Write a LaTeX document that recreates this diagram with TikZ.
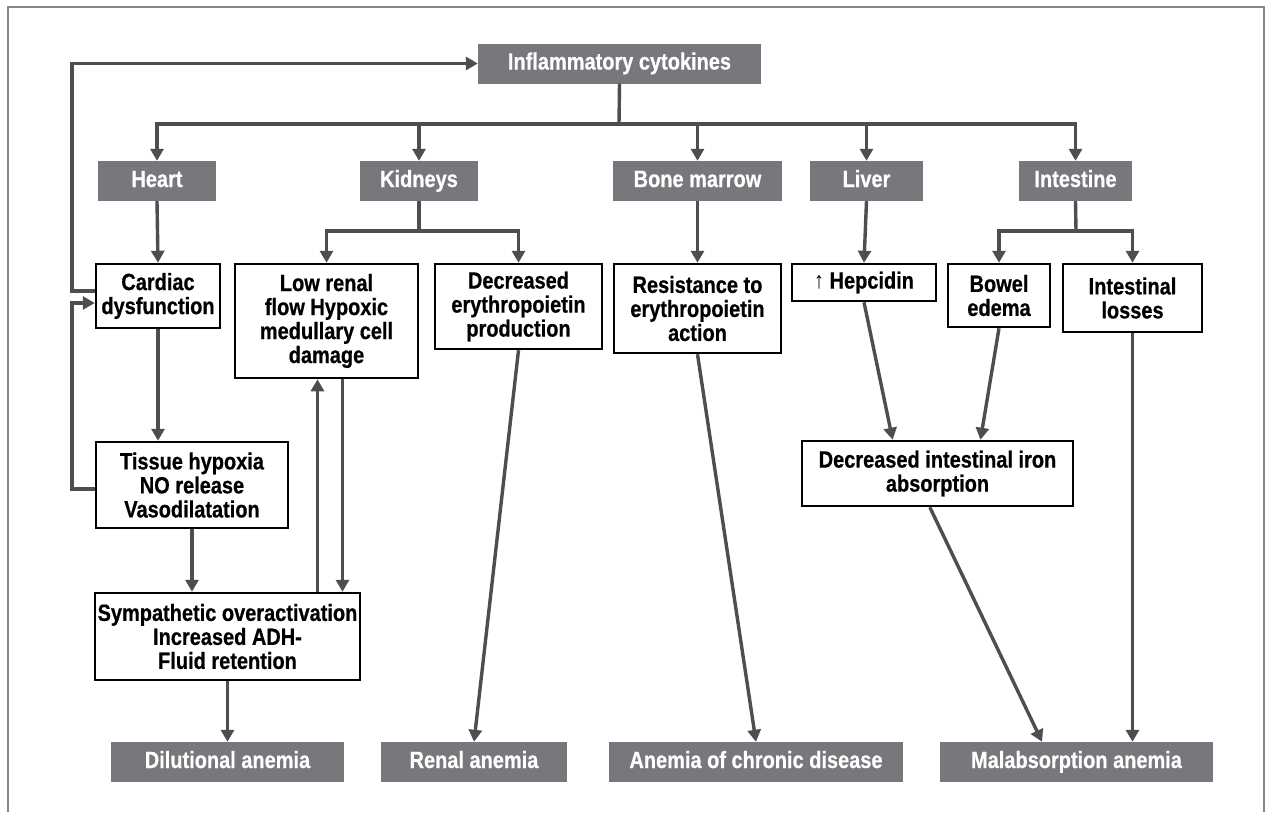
\documentclass[tikz,border=0pt]{standalone}
\usepackage{fontspec}
\setmainfont{Liberation Sans}[FakeStretch=0.85, BoldFeatures={FakeBold=0.6}]
\usetikzlibrary{positioning,arrows.meta,calc}
\definecolor{boxgray}{RGB}{119,120,124}
\definecolor{linegray}{RGB}{78,78,80}
\definecolor{framegray}{RGB}{135,135,135}

\begin{document}
\begin{tikzpicture}[x=1pt, y=-1pt,
  organ/.style={fill=boxgray, text=white, inner sep=0pt, align=center,
    minimum height=40pt, text height=17pt, text depth=5pt,
    font=\bfseries\fontsize{23.5}{24}\selectfont},
  effect/.style={draw=black, line width=2.5pt, fill=white, inner sep=0pt,
    align=center, font=\bfseries\fontsize{23.5}{24}\selectfont},
  arr/.style={-{Triangle[length=12pt, width=13pt]}, line width=3.4pt, linegray},
  link/.style={line width=3.4pt, linegray}
]
\useasboundingbox (0,0) rectangle (1269,812);
\fill[white] (0,0) rectangle (1269,812);
\draw[framegray, line width=1.5pt] (8,812) -- (8,7) -- (1264,7) -- (1264,812);

% Top: cytokines
\node[organ, minimum width=283pt] (infl) at (619.5, 63.5) {Inflammatory cytokines};

% Organs
\node[organ, minimum width=118pt] (heart) at (157, 181) {Heart};
\node[organ, minimum width=118pt] (kidneys) at (419, 181) {Kidneys};
\node[organ, minimum width=169pt] (marrow) at (697.5, 181) {Bone marrow};
\node[organ, minimum width=113pt] (liver) at (866.5, 181) {Liver};
\node[organ, minimum width=113pt] (intestine) at (1075.5, 181) {Intestine};

\coordinate (bus) at (619, 124);
\draw[link] (infl.south) -- (bus);
\foreach \o in {heart, kidneys, marrow, liver, intestine}
  \draw[arr] (bus) -| (\o.north);

% Heart branch
\node[effect, minimum width=124pt, minimum height=64pt] (cardiac) at (158, 296)
  {Cardiac\\dysfunction};
\node[effect, minimum width=192pt, minimum height=86pt] (hypoxia) at (192, 485)
  {Tissue hypoxia\\NO release\\Vasodilatation};
\node[effect, minimum width=265pt, minimum height=87pt] (symp) at (227.5, 636.5)
  {Sympathetic overactivation\\Increased ADH-\\Fluid retention};
\draw[arr] (heart.south) -- (cardiac.north);
\draw[arr] (cardiac.south) -- (cardiac.south |- hypoxia.north);
\draw[arr] (hypoxia.south) -- (hypoxia.south |- symp.north);

% Feedback loops to the left
\coordinate (fbout) at ($(cardiac.west)+(0,-5)$);
\coordinate (fbin) at ($(cardiac.west)+(0,7)$);
\coordinate (fbback) at ($(hypoxia.west)+(0,4)$);
\coordinate (fbleft) at (72, 0);
\draw[arr] (fbout) -| (fbleft |- infl.west) -- (infl.west);
\draw[arr] (fbback) -| (fbleft |- fbin) -- (fbin);

% Kidneys branch
\node[effect, minimum width=183pt, minimum height=114pt] (lowrenal) at (326.5, 321)
  {Low renal\\flow Hypoxic\\medullary cell\\damage};
\node[effect, minimum width=167pt, minimum height=85pt] (decepo) at (518.5, 306.5)
  {Decreased\\erythropoietin\\production};
\coordinate (ksplit) at (419, 231);
\draw[link] (kidneys.south) -- (ksplit);
\draw[arr] (ksplit) -| (lowrenal.north);
\draw[arr] (ksplit) -| (decepo.north);

\coordinate (upin) at ($(lowrenal.south)+(-9,0)$);
\coordinate (downout) at ($(lowrenal.south)+(16,0)$);
\draw[arr] (upin |- symp.north) -- (upin);
\draw[arr] (downout) -- (downout |- symp.north);

% Bone marrow branch
\node[effect, minimum width=167pt, minimum height=89pt] (resist) at (697.5, 308.5)
  {Resistance to\\erythropoietin\\action};
\draw[arr] (marrow.south) -- (resist.north);

% Liver and intestine branches
\node[effect, minimum width=144pt, minimum height=37pt] (hepcidin) at (864, 282.5)
  {{\mdseries ↑} Hepcidin};
\node[effect, minimum width=102pt, minimum height=63pt] (bowel) at (999, 295.5)
  {Bowel\\edema};
\node[effect, minimum width=139pt, minimum height=68pt] (intloss) at (1132.5, 298)
  {Intestinal\\losses};
\node[effect, minimum width=271pt, minimum height=65pt] (ironabs) at (937.5, 473.5)
  {Decreased intestinal iron\\absorption};
\draw[arr] (liver.south) -- (hepcidin.north);
\coordinate (isplit) at (1076, 231);
\draw[link] (intestine.south) -- (isplit);
\draw[arr] (isplit) -| (bowel.north);
\draw[arr] (isplit) -| (intloss.north);
\draw[arr] (hepcidin.south) -- ($(ironabs.north west)!0.336!(ironabs.north east)$);
\draw[arr] (bowel.south) -- ($(ironabs.north west)!0.657!(ironabs.north east)$);

% Outcomes
\node[organ, minimum width=233pt] (dilut) at (227.5, 762) {Dilutional anemia};
\node[organ, minimum width=186pt] (renal) at (474, 762) {Renal anemia};
\node[organ, minimum width=294pt] (chronic) at (756, 762) {Anemia of chronic disease};
\node[organ, minimum width=273pt] (malab) at (1076.5, 762) {Malabsorption anemia};

\draw[arr] (symp.south) -- (dilut.north);
\draw[arr] (decepo.south) -- (renal.north);
\draw[arr] (resist.south) -- (chronic.north);
\draw[arr] ($(ironabs.south west)!0.472!(ironabs.south east)$)
  -- ($(malab.north west)!0.374!(malab.north east)$);
\draw[arr] (intloss.south) -- (intloss.south |- malab.north);

\end{tikzpicture}
\end{document}
